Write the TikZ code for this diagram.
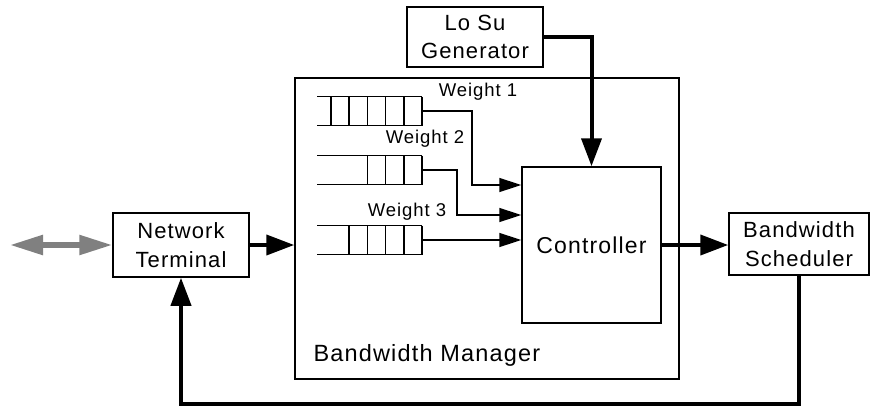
\documentclass[tikz,border=0pt]{standalone}
\usepackage{fontspec}
\setmainfont{Liberation Sans}[LetterSpace=5]
\usetikzlibrary{arrows.meta}
\definecolor{arrowgray}{RGB}{128,128,128}
\tikzset{
    box/.style={draw, line width=1.5pt, align=center, inner sep=0pt, font=\fontsize{22}{28.5}\selectfont},
    thinline/.style={line width=1.5pt},
    inarrow/.style={line width=1.5pt, -{Triangle[length=22pt,width=14pt]}},
    bigarrow/.style={line width=4pt, -{Triangle[length=28pt,width=20pt]}},
    weight/.style={font=\fontsize{18.5}{20}\selectfont},
}
\begin{document}
\begin{tikzpicture}[x=1pt,y=-1pt]
        % Define dimensions
        \def\qleft{317}
        \def\qright{422}
        \def\qhalf{14.5}
        \def\cellw{18.2}
        \useasboundingbox (0,0) rectangle (871,407);
        % Boxes
        \node[box, minimum width=136pt, minimum height=64pt] (nt) at (181,245) {Network\\Terminal};
        \node[box, minimum width=140pt, minimum height=62pt] (bs) at (799,244) {Bandwidth\\Scheduler};
        \node[box, minimum width=136pt, minimum height=60pt] (lsg) at (475,37) {Lo Su\\Generator};
        \node[box, minimum width=384pt, minimum height=301pt] (mgr) at (487,228.5) {};
        \node[box, minimum width=139pt, minimum height=156pt, font=\fontsize{23}{28}\selectfont] (ctrl) at (591.5,245) {Controller};
        \node[anchor=west, font=\fontsize{23.5}{28}\selectfont] (mgrlabel) at (310,355) {Bandwidth Manager};
        % Draw the queues
        \foreach \name/\yy/\cells in {q1/111/5, q2/170/3, q3/240/4} {
            \draw[thinline] (\qleft,\yy-\qhalf) -- (\qright,\yy-\qhalf)
                            (\qleft,\yy+\qhalf) -- (\qright,\yy+\qhalf);
            \foreach \k in {0,...,\cells}
                \draw[thinline] (\qright-\k*\cellw,\yy-\qhalf) -- (\qright-\k*\cellw,\yy+\qhalf);
            \coordinate (\name) at (\qright,\yy);
        }
        % Weight labels
        \node[weight] (w1) at (478,92) {Weight 1};
        \node[weight] (w2) at (425,139) {Weight 2};
        \node[weight] (w3) at (407,212) {Weight 3};
        % Queues into the controller
        \draw[inarrow] (q1) -- (472,111) |- ([yshift=60pt]ctrl.west);
        \draw[inarrow] (q2) -- (457,170) |- ([yshift=30pt]ctrl.west);
        \draw[inarrow] (q3) -- (q3 -| ctrl.west);
        % Thick connectors
        \draw[bigarrow] (lsg.east) -| (ctrl.north);
        \draw[bigarrow] (nt.east) -- (nt.east -| mgr.west);
        \draw[bigarrow] (ctrl.east) -- (ctrl.east -| bs.west);
        \draw[bigarrow] (bs.south) -- ++(0,128) -| (nt.south);
        % External link
        \coordinate (ext) at (10,245);
        \draw[arrowgray, line width=5.5pt, {Triangle[length=33pt,width=19pt]}-{Triangle[length=33pt,width=19pt]}] (ext) -- (nt.west);
    \end{tikzpicture}
\end{document}
